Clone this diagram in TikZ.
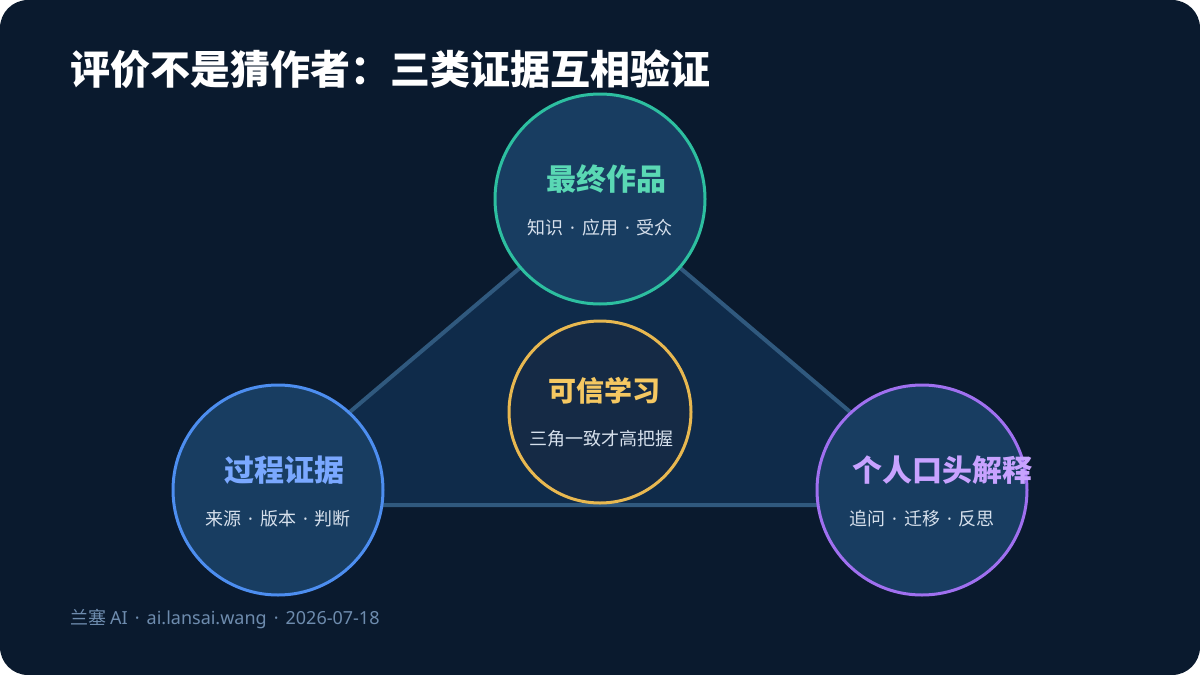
\documentclass[tikz,border=0pt]{standalone}
\usepackage{fontspec}
\setmainfont{Noto Sans CJK SC}
\newfontfamily\latinfont{Noto Sans}[WordSpace=1.5]
\usepackage{xcolor}

\definecolor{bgnavy}{HTML}{0A1A2E}
\definecolor{trifill}{HTML}{0F2B4A}
\definecolor{triline}{HTML}{30597E}
\definecolor{ringfill}{HTML}{183D61}
\definecolor{corefill}{HTML}{152A45}
\definecolor{tealring}{HTML}{2DBFA0}
\definecolor{tealtext}{HTML}{5AD8B4}
\definecolor{bluering}{HTML}{4D8EF0}
\definecolor{bluetext}{HTML}{7AA8FF}
\definecolor{purpring}{HTML}{A070F0}
\definecolor{purptext}{HTML}{C8A2FF}
\definecolor{goldring}{HTML}{E8B850}
\definecolor{goldtext}{HTML}{F5C862}
\definecolor{subtext}{HTML}{D6E0EC}
\definecolor{foottext}{HTML}{6E8CAE}

\newcommand{\dotsep}{{\latinfont{} · }}

\begin{document}
\begin{tikzpicture}[x=1pt,y=-1pt,
  ring/.style={circle,line width=3pt,fill=ringfill,minimum size=210pt,inner sep=0pt},
  head/.style={inner sep=0pt,font=\fontsize{30}{34}\selectfont\bfseries},
  sub/.style={inner sep=0pt,text=subtext,font=\fontsize{18}{21}\selectfont}]
  \useasboundingbox (0,0) rectangle (1200,675);
  \fill[white] (0,0) rectangle (1200,675);
  \fill[bgnavy,rounded corners=28pt] (0,0) rectangle (1200,675);
  % triangle behind the circles
  \coordinate (ctop) at (600,200);
  \coordinate (cleft) at (240,505);
  \coordinate (cright) at (960,505);
  \draw[triline,line width=4pt,fill=trifill,line join=round] (ctop)--(cleft)--(cright)--cycle;
  \node[ring,draw=tealring] (work) at (600,199) {};
  \node[ring,draw=bluering] (proc) at (278,490) {};
  \node[ring,draw=purpring] (expl) at (922,490) {};
  \node[ring,draw=goldring,fill=corefill,minimum size=182pt] (core) at (600,412) {};
  % labels
  \node[head,text=tealtext] (workhead) at ([shift={(6,-20)}]work.center) {最终作品};
  \node[sub] (worksub) at ([shift={(0,29)}]work.center) {知识\dotsep 应用\dotsep 受众};
  \node[head,text=bluetext] (prochead) at ([shift={(6,-20)}]proc.center) {过程证据};
  \node[sub] (procsub) at ([shift={(0,29)}]proc.center) {来源\dotsep 版本\dotsep 判断};
  \node[head,text=purptext] (explhead) at ([shift={(20,-20)}]expl.center) {个人口头解释};
  \node[sub] (explsub) at ([shift={(0,29)}]expl.center) {追问\dotsep 迁移\dotsep 反思};
  \node[head,text=goldtext,font=\fontsize{28}{32}\selectfont\bfseries] (corehead) at ([shift={(4,-21)}]core.center) {可信学习};
  \node[sub] (coresub) at ([shift={(1,27)}]core.center) {三角一致才高把握};
  \node[anchor=west,inner sep=0pt,text=white,font=\fontsize{40}{46}\selectfont\bfseries] (title) at (70,69) {评价不是猜作者：三类证据互相验证};
  \node[anchor=west,inner sep=0pt,text=foottext,font=\fontsize{18}{21}\selectfont] (foot) at (70,619) {兰塞 {\latinfont AI · ai.lansai.wang · 2026-07-18}};
\end{tikzpicture}
\end{document}
